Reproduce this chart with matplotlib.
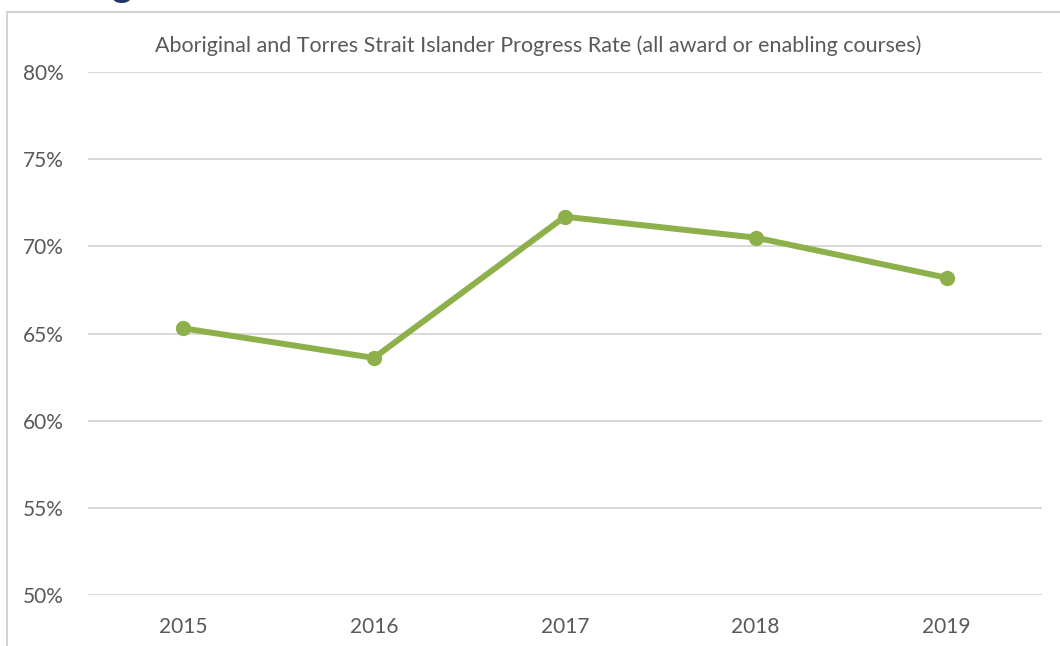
import matplotlib
matplotlib.use("Agg")
import matplotlib.pyplot as plt
from matplotlib.patches import Rectangle
from matplotlib.ticker import FuncFormatter, MultipleLocator

years = ["2015", "2016", "2017", "2018", "2019"]
progress_rate = [65.3, 63.6, 71.7, 70.5, 68.2]
title = "Aboriginal and Torres Strait Islander Progress Rate (all award or enabling courses)"

plt.rcParams['font.family'] = ['Lato', 'DejaVu Sans']

W, H = 1060, 646
fig = plt.figure(figsize=(W / 100, H / 100), dpi=100)
fig.patch.set_facecolor("white")

# outer chart frame (screenshot border)
frame = Rectangle((7 / W, -0.05), 1.2, 1 - 12 / H + 0.05, transform=fig.transFigure,
                  fill=False, edgecolor="#D4D4D4", linewidth=1.5)
fig.patches.append(frame)

# clipped heading glyph above the chart
fig.text(112 / W, 1 + 3 / H, "g", color="#1F3864", fontsize=28, fontweight="bold",
         ha="left", va="baseline")

ax = fig.add_axes([87.6 / W, 1 - 595 / H, (1042 - 87.6) / W, (595 - 72) / H])
x = list(range(len(years)))
ax.plot(x, progress_rate, color="#8DB04A", linewidth=4.3, marker="o",
        markersize=10, solid_capstyle="round", zorder=3)

ax.set_xlim(-0.5, len(years) - 0.5)
ax.set_ylim(50, 80)
ax.yaxis.set_major_locator(MultipleLocator(5))
ax.yaxis.set_major_formatter(FuncFormatter(lambda v, p: f"{v:.0f}%"))
ax.set_xticks(x)
ax.set_xticklabels(years)
ax.grid(axis="y", color="#D9D9D9", linewidth=1.4)
ax.set_axisbelow(True)
for s in ax.spines.values():
    s.set_visible(False)
ax.tick_params(axis="both", length=0, labelsize=15, labelcolor="#595959")
ax.tick_params(axis="y", pad=17)
ax.tick_params(axis="x", pad=16)

fig.text(538 / W, 1 - 46 / H, title, ha="center", va="center",
         fontsize=15.5, color="#595959")

fig.savefig("out.png", dpi=100, facecolor="white")
